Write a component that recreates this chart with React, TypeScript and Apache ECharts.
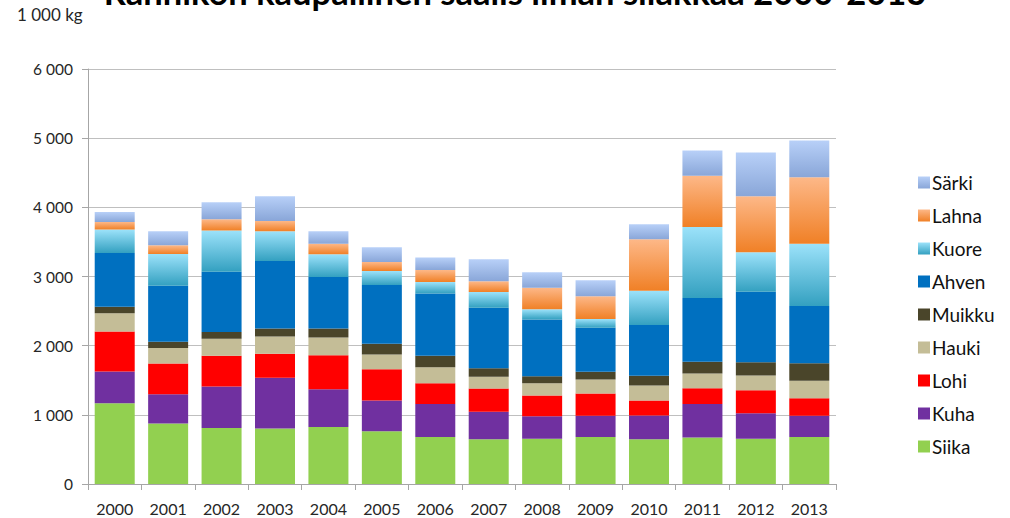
import React, { useEffect, useRef } from "react";
import * as echarts from "echarts";

const years = ["2000", "2001", "2002", "2003", "2004", "2005", "2006", "2007", "2008", "2009", "2010", "2011", "2012", "2013"];

const siika = [1168, 874, 811, 801, 825, 763, 681, 647, 656, 681, 647, 671, 656, 681];
const kuha = [459, 424, 598, 734, 546, 444, 477, 396, 324, 304, 343, 487, 367, 304];
const lohi = [579, 445, 445, 348, 492, 453, 300, 338, 299, 323, 217, 227, 333, 256];
const hauki = [261, 222, 246, 251, 256, 213, 231, 168, 179, 203, 217, 213, 213, 251];
const muikku = [96, 91, 96, 115, 130, 154, 165, 126, 101, 111, 140, 169, 193, 255];
const ahven = [777, 811, 874, 975, 744, 850, 902, 874, 821, 637, 734, 922, 1018, 826];
const kuore = [338, 459, 594, 430, 328, 203, 164, 227, 145, 126, 497, 1028, 570, 902];
const lahna = [111, 125, 164, 150, 154, 130, 174, 154, 313, 328, 743, 738, 811, 961];
const sarki = [145, 203, 246, 357, 179, 212, 179, 319, 222, 231, 217, 367, 632, 531];

const yTicks = [0, 1000, 2000, 3000, 4000, 5000, 6000];

const FONT = "Lato, 'Open Sans', sans-serif";

function grad(top: string, bottom: string) {
  return new echarts.graphic.LinearGradient(0, 0, 0, 1, [
    { offset: 0, color: top },
    { offset: 1, color: bottom },
  ]);
}

export default function App() {
  const ref = useRef<HTMLDivElement>(null);
  useEffect(() => {
    if (!ref.current) return;
    const chart = echarts.init(ref.current, undefined, { renderer: "svg" });
    const defs: { name: string; data: number[]; color: any }[] = [
      { name: "Siika", data: siika, color: "#92d050" },
      { name: "Kuha", data: kuha, color: "#7030a0" },
      { name: "Lohi", data: lohi, color: "#ff0000" },
      { name: "Hauki", data: hauki, color: "#c4bd97" },
      { name: "Muikku", data: muikku, color: "#4a452a" },
      { name: "Ahven", data: ahven, color: "#0070c0" },
      { name: "Kuore", data: kuore, color: grad("#9ce2fa", "#33a0c0") },
      { name: "Lahna", data: lahna, color: grad("#fdb888", "#f08026") },
      { name: "Särki", data: sarki, color: grad("#b8d0f8", "#89a6d8") },
    ];
    chart.setOption({
      animation: false,
      grid: { left: 88, right: 174, top: 69, bottom: 34 },
      legend: {
        orient: "vertical",
        left: 913,
        top: 168,
        itemWidth: 12,
        itemHeight: 12,
        itemGap: 14,
        icon: "rect",
        data: ["Särki", "Lahna", "Kuore", "Ahven", "Muikku", "Hauki", "Lohi", "Kuha", "Siika"],
        textStyle: { fontFamily: FONT, fontSize: 19, color: "#111", padding: [0, 0, 0, -3] },
      },
      xAxis: {
        type: "category",
        data: years,
        axisLine: { lineStyle: { color: "#a6a6a6" } },
        axisTick: { show: true, length: 6, lineStyle: { color: "#a6a6a6" } },
        axisLabel: { fontFamily: FONT, fontSize: 16, color: "#262626", margin: 16 },
      },
      yAxis: {
        type: "value",
        min: yTicks[0],
        max: yTicks[yTicks.length - 1],
        interval: 1000,
        axisLine: { show: true, lineStyle: { color: "#a6a6a6" } },
        axisTick: { show: true, length: 6, lineStyle: { color: "#a6a6a6" } },
        splitLine: { lineStyle: { color: "#bfbfbf", width: 1.2 } },
        axisLabel: {
          fontFamily: FONT,
          fontSize: 15.5,
          color: "#262626",
          margin: 15,
          formatter: (v: number) => (v >= 1000 ? Math.floor(v / 1000) + " " + String(v % 1000).padStart(3, "0") : String(v)),
        },
      },
      graphic: [
        {
          type: "text",
          left: 17,
          top: 6,
          style: { text: "1 000 kg", fontFamily: FONT, fontSize: 17, fill: "#262626" },
        },
        {
          type: "text",
          x: 515,
          y: -9,
          style: {
            text: "Rannikon kaupallinen saalis ilman silakkaa 2000-2013",
            fontFamily: FONT,
            fontWeight: "bold",
            fontSize: 34.5,
            fill: "#000",
            textAlign: "center",
            textVerticalAlign: "middle",
          },
        },
      ],
      series: defs.map((d) => ({
        name: d.name,
        type: "bar",
        stack: "total",
        barWidth: 40,
        data: d.data,
        itemStyle: { color: d.color },
        emphasis: { disabled: true },
      })),
    });
    return () => chart.dispose();
  }, []);
  return <div ref={ref} style={{ width: 1010, height: 518, position: "absolute", left: 0, top: 0 }} />;
}
